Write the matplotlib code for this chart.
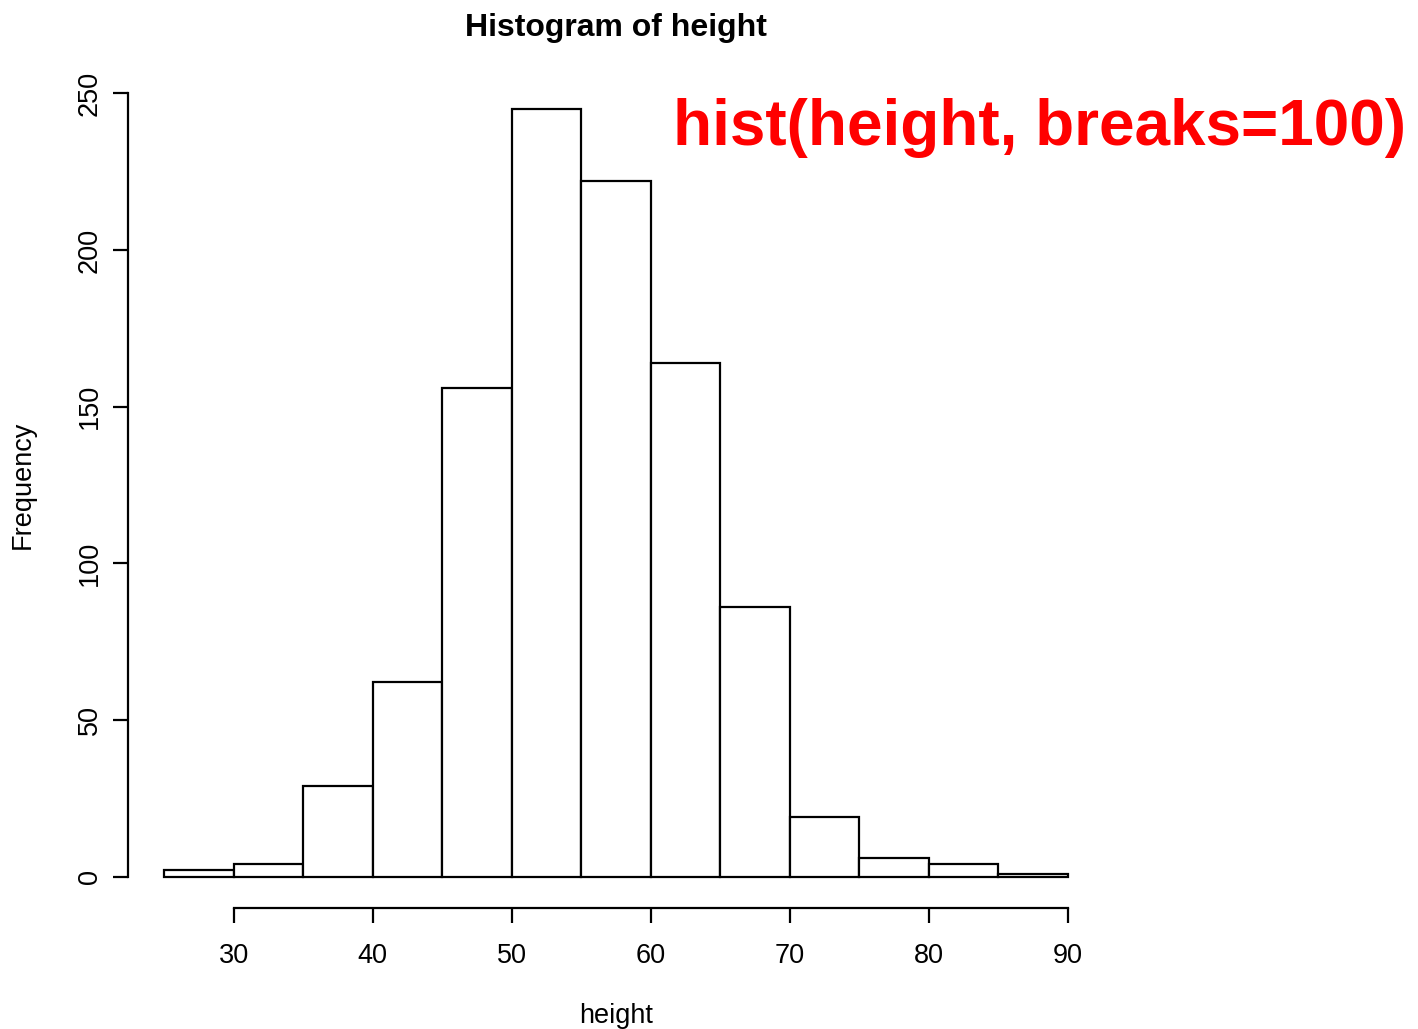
import numpy as np
import matplotlib.pyplot as plt

plt.rcParams['font.family'] = ['Liberation Sans', 'DejaVu Sans']

# bin edges (width 5) and counts per bin
bin_edges = [25, 30, 35, 40, 45, 50, 55, 60, 65, 70, 75, 80, 85, 90]
counts = [2, 4, 29, 62, 156, 245, 222, 164, 86, 19, 6, 4, 1]
x_ticks = [30, 40, 50, 60, 70, 80, 90]
y_ticks = [0, 50, 100, 150, 200, 250]

W, H = 1418, 1029
fig = plt.figure(figsize=(W / 100, H / 100), dpi=100)
ax = fig.add_axes([128 / W, 121 / H, (1104 - 128) / W, (967 - 121) / H])

lefts = np.array(bin_edges[:-1])
widths = np.diff(bin_edges)
ax.bar(lefts, counts, width=widths, align='edge', color='white',
       edgecolor='black', linewidth=1.6)

ax.set_xlim(22.4, 92.6)
ax.set_ylim(-10, 260)

for side in ['top', 'right']:
    ax.spines[side].set_visible(False)
ax.spines['bottom'].set_bounds(30, 90)
ax.spines['left'].set_bounds(0, 250)
for side in ['bottom', 'left']:
    ax.spines[side].set_linewidth(1.6)

ax.set_xticks(x_ticks)
ax.set_yticks(y_ticks)
ax.tick_params(axis='both', length=11, width=1.6, labelsize=19.5)
ax.tick_params(axis='x', pad=14)
ax.tick_params(axis='y', pad=7)
for lbl in ax.get_yticklabels():
    lbl.set_rotation(90)
    lbl.set_va('center')

ax.set_title('Histogram of height', fontsize=23, fontweight='bold', pad=19)
ax.set_xlabel('height', fontsize=19.5, labelpad=25)
ax.set_ylabel('Frequency', fontsize=19.5, labelpad=30)

fig.text(1406 / W, 1 - 128 / H, 'hist(height, breaks=100)', color='#ff0000',
         fontsize=46, fontweight='bold', ha='right', va='center')

fig.savefig('out.png', dpi=100)
